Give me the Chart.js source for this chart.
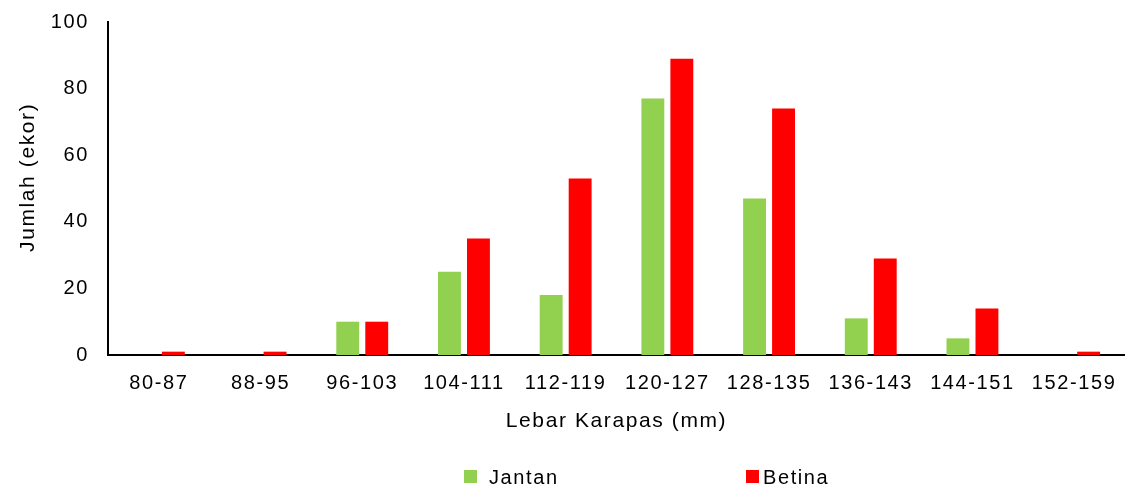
<!DOCTYPE html>
<html>
<head>
<meta charset="utf-8">
<script src="https://cdn.jsdelivr.net/npm/chart.js@4"></script>
<style>
  body { margin: 0; background: #fff; }
  #wrap { position: relative; width: 1125px; height: 489px; }
  .lg { position: absolute; top: 465px; font: 20px "Liberation Sans", Arial, sans-serif; letter-spacing: 1.6px; color: #000; line-height: 24px; }
  .lg i { position: absolute; top: 5px; width: 13px; height: 13px; }
</style>
</head>
<body>
<div id="wrap">
  <canvas id="bar-chart" width="1125" height="489"></canvas>
  <div class="lg" style="left:464px"><i style="background:#92D050;left:0"></i><span style="margin-left:25px">Jantan</span></div>
  <div class="lg" style="left:746px"><i style="background:#FF0000;left:0"></i><span style="margin-left:17px">Betina</span></div>
</div>
<script>
// classes of carapace width
var labels = ["80-87", "88-95", "96-103", "104-111", "112-119", "120-127", "128-135", "136-143", "144-151", "152-159"];
var jantan = [0, 0, 10, 25, 18, 77, 47, 11, 5, 0];
var betina = [1, 1, 10, 35, 53, 89, 74, 29, 14, 1];
var yTicks = [0, 20, 40, 60, 80, 100];

Chart.defaults.font.family = '"Liberation Sans", Arial, sans-serif';
Chart.defaults.font.size = 20;
Chart.defaults.color = '#000';

// the original text is wider than Arial, so spread the letters a little
var spacing = {
  id: 'spacing',
  beforeUpdate: function(chart) { chart.ctx.letterSpacing = '1.6px'; },
  beforeDraw: function(chart) { chart.ctx.letterSpacing = '1.6px'; }
};

new Chart(document.getElementById("bar-chart"), {
  type: 'bar',
  plugins: [spacing],
  data: {
    labels: labels,
    datasets: [{
        data: jantan,
        label: "Jantan",
        backgroundColor: "#92D050",
        categoryPercentage: 0.57,
        barPercentage: 0.79
      }, {
        data: betina,
        label: "Betina",
        backgroundColor: "#FF0000",
        categoryPercentage: 0.57,
        barPercentage: 0.79
      }
    ]
  },
  options: {
    responsive: false,
    animation: false,
    layout: { padding: { top: 22, right: 0, bottom: 49, left: 0 } },
    plugins: {
      legend: { display: false },
      tooltip: { enabled: false }
    },
    scales: {
      x: {
        grid: { display: false, drawTicks: false },
        border: { color: '#000', width: 2 },
        ticks: { padding: 16, maxRotation: 0 },
        title: { display: true, text: 'Lebar Karapas (mm)', font: { size: 21 }, padding: { top: 0, bottom: 6 } },
        afterFit: function(s) { s.height = 85; s.paddingLeft = 0; s.paddingRight = 0; }
      },
      y: {
        min: 0,
        max: 100,
        afterBuildTicks: function(s) { s.ticks = yTicks.map(function(v) { return { value: v }; }); },
        grid: { display: false, drawTicks: false },
        border: { color: '#000', width: 2 },
        ticks: { padding: 19 },
        // leading spaces push the title a bit up the axis, as in the original
        title: { display: true, text: '   Jumlah (ekor)', font: { size: 21 }, padding: { top: 16, bottom: 0 } },
        afterFit: function(s) { s.width = 108; s.paddingTop = 0; s.paddingBottom = 0; }
      }
    }
  }
});
</script>
</body>
</html>
